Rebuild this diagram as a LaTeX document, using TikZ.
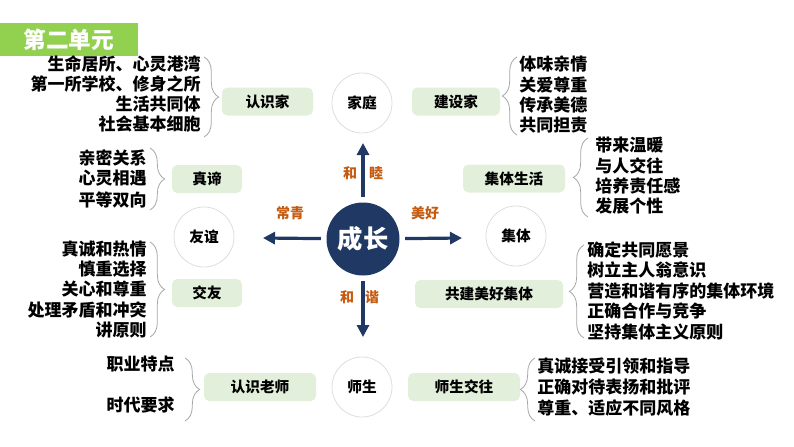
\documentclass[tikz,border=0pt]{standalone}
\usepackage{fontspec}
\setmainfont{Noto Sans CJK SC}
\usetikzlibrary{arrows.meta,decorations.pathreplacing}
\definecolor{GrowNavy}{HTML}{1F3864}
\definecolor{WarmOrange}{HTML}{C55A11}
\definecolor{LeafGreen}{HTML}{92D050}
\definecolor{PaleGreen}{HTML}{E2EFDA}
\definecolor{RingGrey}{HTML}{DEDED8}
\definecolor{BraceGrey}{HTML}{A6A6A6}

\begin{document}
\begin{tikzpicture}[x=0.75pt,y=-0.75pt,
    topic/.style={fill=PaleGreen,rounded corners=4pt,minimum height=21pt,inner sep=0pt,font=\fontsize{11}{13}\selectfont\bfseries},
    ring/.style={circle,draw=RingGrey,line width=0.6pt,minimum size=45pt,inner sep=0pt,font=\fontsize{11}{13}\selectfont\bfseries},
    item/.style={inner sep=0pt,font=\fontsize{12.75}{15}\selectfont\bfseries},
    tag/.style={text=WarmOrange,inner sep=0pt,font=\fontsize{10.5}{12}\selectfont\bfseries},
    growarrow/.style={GrowNavy,line width=2.4pt,-{Triangle[length=9pt,width=9pt]},shorten <=4pt},
    curly/.style={BraceGrey,line width=0.6pt,decorate,decoration={brace,amplitude=11pt}}]
  \useasboundingbox (0,0) rectangle (794,447);
  \node[fill=LeafGreen,minimum width=103.5pt,minimum height=24.75pt,inner sep=0pt,text=white,font=\fontsize{17}{19}\selectfont\bfseries] (unit) at (69,39.5) {第二单元};

  \node[circle,fill=GrowNavy,minimum size=54.75pt,inner sep=0pt,text=white,font=\fontsize{19}{21}\selectfont\bfseries] (growth) at (363,239) {成长};
  \coordinate (tipW) at (263,238);
  \coordinate (tipE) at (462,238);
  \coordinate (tipN) at (363,143);
  \coordinate (tipS) at (363,337);
  \foreach \d in {W,E,N,S}
    \draw[growarrow] (growth) -- (tip\d);
  \node[tag] (he1) at (350,173) {和};
  \node[tag] (mu) at (376,173) {睦};
  \node[tag] (he2) at (347,297) {和};
  \node[tag] (xie) at (372,297) {谐};
  \node[tag] (evergreen) at (290,213) {常青};
  \node[tag] (fine) at (425,213) {美好};

  \node[ring] (family) at (362,103) {家庭};
  \node[ring] (collective) at (516,236) {集体};
  \node[ring] (friendship) at (204,237) {友谊};
  \node[ring] (teachers) at (362,387) {师生};

  \node[topic,minimum width=68.25pt] (knowHome) at (267.5,101.5) {认识家};
  \node[topic,minimum width=66pt] (buildHome) at (456,101.5) {建设家};
  \node[topic,minimum width=76.5pt] (groupLife) at (514,178.5) {集体生活};
  \node[topic,minimum width=52.5pt] (truth) at (207,179) {真谛};
  \node[topic,minimum width=52.5pt] (makeFriends) at (207,293) {交友};
  \node[topic,minimum width=111pt] (buildGroup) at (489,294) {共建美好集体};
  \node[topic,minimum width=84pt] (knowTeacher) at (260,387) {认识老师};
  \node[topic,minimum width=84pt] (withTeacher) at (464,387) {师生交往};

  \foreach \n/\xa/\ya/\xb/\yb in {bHome/204/57/204/137,bBuild/517/135/517/57,bLife/588/217/588/138,
      bTruth/150/148/150/210,bFriend/150/242/150/337,bShared/584/338/584/245,
      bKnowT/185/358/185/421,bWithT/535/421/535/358}{
    \coordinate (\n1) at (\xa,\ya);
    \coordinate (\n2) at (\xb,\yb);
    \draw[curly] (\n1) -- (\n2);
  }

  \foreach \t [count=\i from 0] in {生命居所、心灵港湾,第一所学校、修身之所,生活共同体,社会基本细胞}
    \node[item,anchor=east] (home\i) at (201,{64+20*\i}) {\t};
  \foreach \t [count=\i from 0] in {体味亲情,关爱尊重,传承美德,共同担责}
    \node[item,anchor=west] (build\i) at (519,{64.5+20.3*\i}) {\t};
  \foreach \t [count=\i from 0] in {带来温暖,与人交往,培养责任感,发展个性}
    \node[item,anchor=west] (life\i) at (595,{145.5+20.2*\i}) {\t};
  \foreach \t [count=\i from 0] in {亲密关系,心灵相遇,平等双向}
    \node[item,anchor=east] (truth\i) at (147,{157.5+21*\i}) {\t};
  \foreach \t [count=\i from 0] in {真诚和热情,慎重选择,关心和尊重,处理矛盾和冲突,讲原则}
    \node[item,anchor=east] (friend\i) at (147,{249+20.2*\i}) {\t};
  \foreach \t [count=\i from 0] in {确定共同愿景,树立主人翁意识,营造和谐有序的集体环境,正确合作与竞争,坚持集体主义原则}
    \node[item,anchor=west] (shared\i) at (587,{250+20.4*\i}) {\t};
  \foreach \t [count=\i from 0] in {职业特点,时代要求}
    \node[item,anchor=east] (teacher\i) at (175,{364.5+41*\i}) {\t};
  \foreach \t [count=\i from 0] in {真诚接受引领和指导,正确对待表扬和批评,尊重、适应不同风格}
    \node[item,anchor=west] (relation\i) at (537,{366.5+21*\i}) {\t};
\end{tikzpicture}
\end{document}
